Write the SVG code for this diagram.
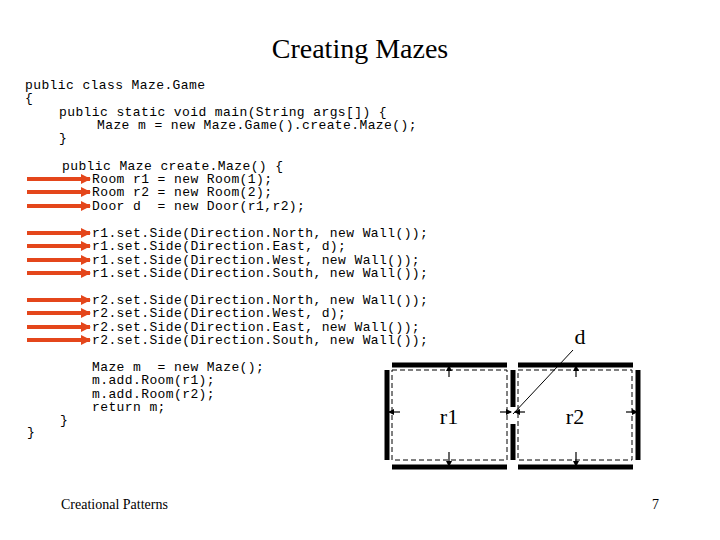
<svg xmlns="http://www.w3.org/2000/svg" width="720" height="540" viewBox="0 0 720 540">
<style>
.c{font-family:"Liberation Mono","Courier New",monospace;font-size:13px;letter-spacing:0.4px;fill:#000;white-space:pre}
.s{font-family:"Liberation Serif",serif;fill:#000}
.w{stroke:#000;stroke-width:5}
.dr{fill:none;stroke:#000;stroke-dasharray:5,3}
.ar{stroke:#000;stroke-width:1.2;marker-end:url(#a)}
</style>
<defs>
<marker id="a" markerWidth="6" markerHeight="6" refX="5" refY="3" orient="auto" markerUnits="userSpaceOnUse"><path d="M0,0L6,3L0,6z" fill="#000"/></marker>
<marker id="r" markerWidth="10" markerHeight="10" refX="9" refY="5" orient="auto" markerUnits="userSpaceOnUse"><path d="M0,0L10,5L0,10z" fill="#e4461b"/></marker>
</defs>
<rect width="720" height="540" fill="#fff"/>
<text class="s" x="360" y="58" font-size="28" text-anchor="middle">Creating Mazes</text>
<g id="code">
<text class="c" x="25" y="89">public class Maze.Game</text>
<text class="c" x="25" y="102">{</text>
<text class="c" x="59" y="116">public static void main(String args[]) {</text>
<text class="c" x="97" y="129">Maze m = new Maze.Game().create.Maze();</text>
<text class="c" x="59" y="142">}</text>
<text class="c" x="62" y="170">public Maze create.Maze() {</text>
<text class="c" x="92" y="183">Room r1 = new Room(1);</text>
<text class="c" x="92" y="196">Room r2 = new Room(2);</text>
<text class="c" x="92" y="210">Door d  = new Door(r1,r2);</text>
<text class="c" x="92" y="237">r1.set.Side(Direction.North, new Wall());</text>
<text class="c" x="92" y="250">r1.set.Side(Direction.East, d);</text>
<text class="c" x="92" y="264">r1.set.Side(Direction.West, new Wall());</text>
<text class="c" x="92" y="277">r1.set.Side(Direction.South, new Wall());</text>
<text class="c" x="92" y="304">r2.set.Side(Direction.North, new Wall());</text>
<text class="c" x="92" y="317">r2.set.Side(Direction.West, d);</text>
<text class="c" x="92" y="331">r2.set.Side(Direction.East, new Wall());</text>
<text class="c" x="92" y="344">r2.set.Side(Direction.South, new Wall());</text>
<text class="c" x="92" y="371">Maze m  = new Maze();</text>
<text class="c" x="92" y="384">m.add.Room(r1);</text>
<text class="c" x="92" y="398">m.add.Room(r2);</text>
<text class="c" x="92" y="411">return m;</text>
<text class="c" x="60" y="424">}</text>
<text class="c" x="27" y="436">}</text>
</g>
<g id="redarrows" stroke="#e4461b" stroke-width="4" marker-end="url(#r)">
<line x1="27" y1="179" x2="90" y2="179"/>
<line x1="27" y1="192" x2="90" y2="192"/>
<line x1="27" y1="206" x2="90" y2="206"/>
<line x1="27" y1="233" x2="90" y2="233"/>
<line x1="27" y1="246" x2="90" y2="246"/>
<line x1="27" y1="260" x2="90" y2="260"/>
<line x1="27" y1="273" x2="90" y2="273"/>
<line x1="27" y1="300" x2="90" y2="300"/>
<line x1="27" y1="313" x2="90" y2="313"/>
<line x1="27" y1="327" x2="90" y2="327"/>
<line x1="27" y1="340" x2="90" y2="340"/>
</g>
<g id="maze">
<line class="w" x1="392" y1="365" x2="507" y2="365"/>
<line class="w" x1="518" y1="365" x2="633" y2="365"/>
<line class="w" x1="392" y1="467" x2="507" y2="467"/>
<line class="w" x1="518" y1="467" x2="633" y2="467"/>
<line class="w" x1="387" y1="370" x2="387" y2="460"/>
<line class="w" x1="638" y1="370" x2="638" y2="460"/>
<line class="w" x1="513" y1="370" x2="513" y2="407"/>
<line class="w" x1="513" y1="424" x2="513" y2="460"/>
<rect class="dr" x="392" y="370" width="115" height="90"/>
<rect class="dr" x="518" y="370" width="114" height="90"/>
<line class="ar" x1="449" y1="377" x2="449" y2="366"/>
<line class="ar" x1="449" y1="452" x2="449" y2="466"/>
<line class="ar" x1="400" y1="412" x2="389" y2="412"/>
<line class="ar" x1="500" y1="412" x2="511" y2="412"/>
<line class="ar" x1="576" y1="377" x2="576" y2="366"/>
<line class="ar" x1="576" y1="452" x2="576" y2="466"/>
<line class="ar" x1="626" y1="412" x2="637" y2="412"/>
<line class="ar" x1="525" y1="412" x2="515" y2="412"/>
<line x1="573" y1="350" x2="513" y2="414" stroke="#000"/>
<text class="s" x="449" y="424" font-size="22" text-anchor="middle">r1</text>
<text class="s" x="575" y="424" font-size="22" text-anchor="middle">r2</text>
<text class="s" x="580" y="344" font-size="22" text-anchor="middle">d</text>
</g>
<text class="s" x="61" y="509" font-size="14">Creational Patterns</text>
<text class="s" x="659" y="509" font-size="14" text-anchor="end">7</text>
</svg>
